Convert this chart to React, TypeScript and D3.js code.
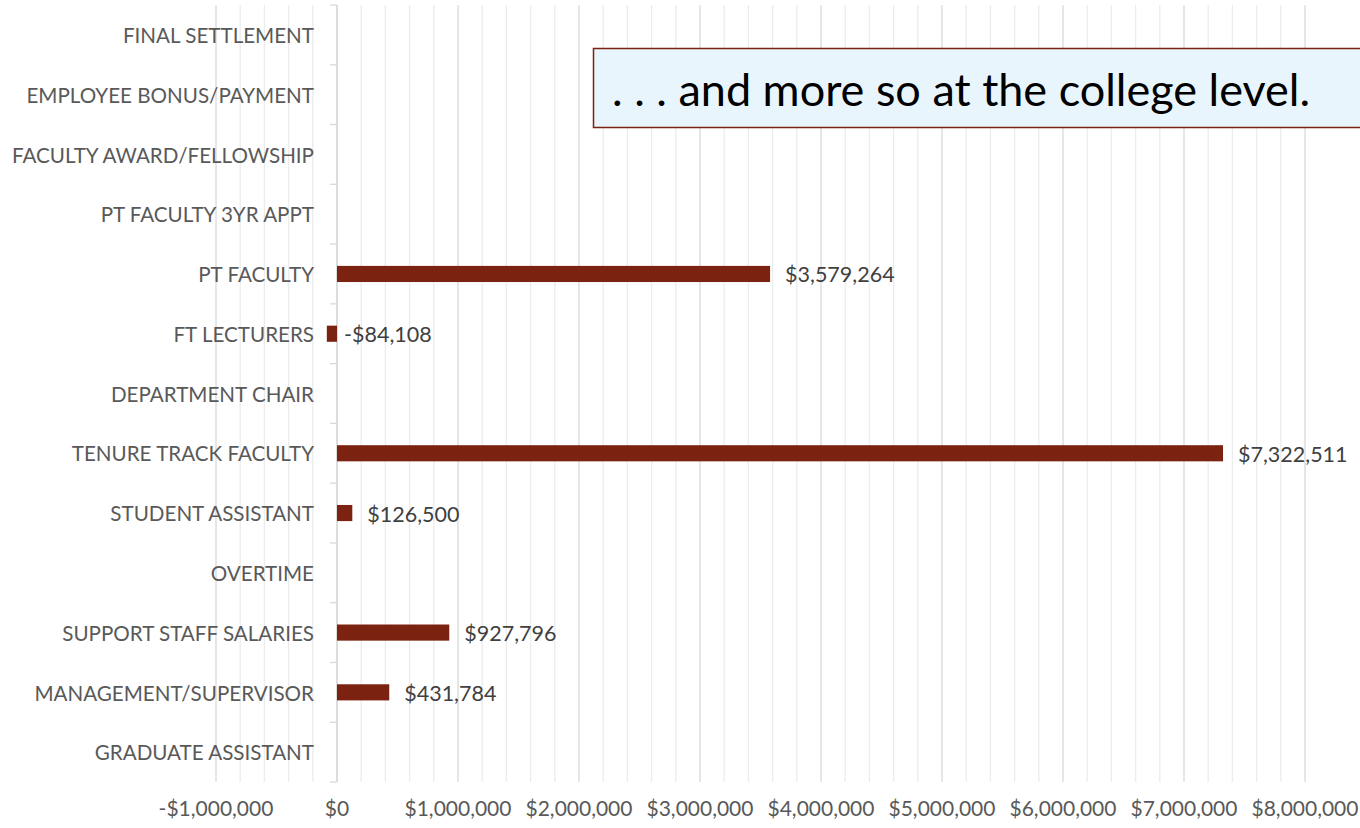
import React from "react";
import * as d3 from "d3";

const categories = [
  "FINAL SETTLEMENT",
  "EMPLOYEE BONUS/PAYMENT",
  "FACULTY AWARD/FELLOWSHIP",
  "PT FACULTY 3YR APPT",
  "PT FACULTY",
  "FT LECTURERS",
  "DEPARTMENT CHAIR",
  "TENURE TRACK FACULTY",
  "STUDENT ASSISTANT",
  "OVERTIME",
  "SUPPORT STAFF SALARIES",
  "MANAGEMENT/SUPERVISOR",
  "GRADUATE ASSISTANT",
];
const values: (number | null)[] = [
  null, null, null, null, 3579264, -84108, null, 7322511, 126500, null, 927796, 431784, null,
];
const xTicks = [-1000000, 0, 1000000, 2000000, 3000000, 4000000, 5000000, 6000000, 7000000, 8000000];
const annotation = ". . . and more so at the college level.";

const W = 1360;
const H = 828;
const left = 216;
const right = 1305;
const top = 5;
const bottom = 782;
const font = "Lato, 'Open Sans', sans-serif";

export default function App() {
  const x = d3.scaleLinear().domain([-1000000, 8000000]).range([left, right]);
  const y = d3.scaleBand<string>().domain(categories).range([top, bottom]).paddingInner(0.73).paddingOuter(0.365);
  const step = y.step();
  const minor = d3.range(-1000000, 8000001, 200000).filter((v) => v % 1000000 !== 0);
  const fmt = (v: number) => (v < 0 ? "-$" : "$") + d3.format(",")(Math.abs(v));
  const x0 = x(0);
  return (
    <div style={{ position: "absolute", left: 0, top: 0 }}>
      <svg width={W} height={H} style={{ display: "block", background: "#fff" }}>
        {minor.map((v) => (
          <line key={"m" + v} x1={x(v)} x2={x(v)} y1={top} y2={bottom} stroke="#ececec" strokeWidth={1.3} />
        ))}
        {xTicks.map((v) => (
          <line key={"g" + v} x1={x(v)} x2={x(v)} y1={top} y2={bottom} stroke="#d9d9d9" strokeWidth={1.3} />
        ))}
        {/* category axis */}
        <line x1={x0} x2={x0} y1={top} y2={bottom} stroke="#d9d9d9" strokeWidth={1.3} />
        {d3.range(categories.length + 1).map((i) => (
          <line key={"t" + i} x1={x0 - 7} x2={x0} y1={top + i * step} y2={top + i * step} stroke="#d9d9d9" strokeWidth={1.3} />
        ))}
        {categories.map((c) => (
          <text key={c} x={314} y={(y(c) as number) + y.bandwidth() / 2 + 1} dy="0.35em" textAnchor="end"
            fontFamily={font} fontSize={20.6} fill="#595959">
            {c}
          </text>
        ))}
        {categories.map((c, i) => {
          const v = values[i];
          if (v === null) return null;
          const xa = x(Math.min(0, v));
          const xb = x(Math.max(0, v));
          return (
            <g key={"b" + c}>
              <rect x={xa} y={y(c)} width={xb - xa} height={y.bandwidth()} fill="#7b2210" />
              <text x={v < 0 ? x0 + 7 : xb + 15} y={(y(c) as number) + y.bandwidth() / 2 + 1} dy="0.35em"
                fontFamily={font} fontSize={21.5} fill="#404040">
                {fmt(v)}
              </text>
            </g>
          );
        })}
        {xTicks.map((v) => (
          <text key={"xl" + v} x={x(v)} y={809} dy="0.35em" textAnchor="middle" fontFamily={font} fontSize={21} fill="#595959">
            {fmt(v)}
          </text>
        ))}
        <rect x={593.5} y={48.5} width={780} height={79} fill="#e8f5fd" stroke="#7b2210" strokeWidth={1.5} />
        <text x={612} y={106} fontFamily={font} fontSize={45} fill="#000">
          {annotation}
        </text>
      </svg>
    </div>
  );
}
